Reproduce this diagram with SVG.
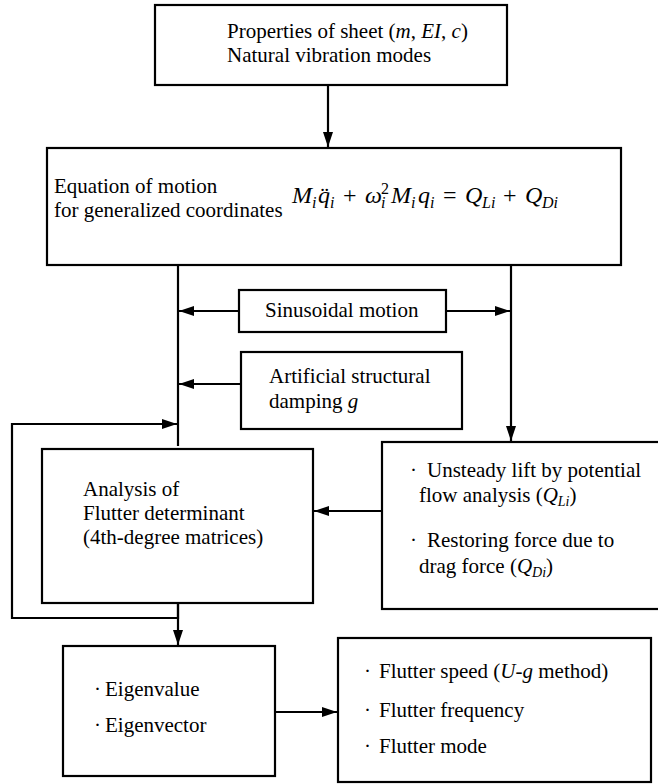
<svg xmlns="http://www.w3.org/2000/svg" width="658" height="784" viewBox="0 0 658 784">
<defs>
<style>
.box{fill:#fff;stroke:#000;stroke-width:2.2}
.ln{fill:none;stroke:#000;stroke-width:2.2}
text{font-family:"Liberation Serif","Times New Roman",serif;font-size:21px;fill:#000}
.it{font-style:italic}
.sub{font-size:14px;font-style:italic}
.fm{font-size:24px;font-style:italic}
.fs{font-size:16px;font-style:italic}
.op{font-style:normal}
</style>
<marker id="ah" markerUnits="userSpaceOnUse" markerWidth="16" markerHeight="12" refX="15" refY="6" orient="auto">
<path d="M0,1 L15,6 L0,11 z" fill="#000"/>
</marker>
</defs>
<rect width="658" height="784" fill="#fff"/>

<g id="connectors">
<line class="ln" x1="328" y1="85" x2="328" y2="147" marker-end="url(#ah)"/>
<line class="ln" x1="178" y1="265" x2="178" y2="446"/>
<line class="ln" x1="511" y1="265" x2="511" y2="441" marker-end="url(#ah)"/>
<line class="ln" x1="239" y1="311" x2="179" y2="311" marker-end="url(#ah)"/>
<line class="ln" x1="446" y1="311" x2="510" y2="311" marker-end="url(#ah)"/>
<line class="ln" x1="241" y1="384" x2="179" y2="384" marker-end="url(#ah)"/>
<path class="ln" d="M178,603 L178,618 L12,618 L12,424 L177,424" marker-end="url(#ah)"/>
<line class="ln" x1="178" y1="603" x2="178" y2="645" marker-end="url(#ah)"/>
<line class="ln" x1="382" y1="511" x2="314" y2="511" marker-end="url(#ah)"/>
<line class="ln" x1="275" y1="712" x2="337" y2="712" marker-end="url(#ah)"/>
</g>

<g id="properties">
<rect class="box" x="155" y="5" width="352" height="80"/>
<text x="227" y="38">Properties of sheet (<tspan class="it">m</tspan>, <tspan class="it">EI</tspan>, <tspan class="it">c</tspan>)</text>
<text x="227" y="62">Natural vibration modes</text>
</g>

<g id="equation">
<rect class="box" x="47" y="148" width="574" height="117"/>
<text x="54" y="193">Equation of motion</text>
<text x="54" y="217">for generalized coordinates</text>
<text class="fm" y="203"><tspan x="292">M</tspan><tspan class="fs" x="312" dy="5">i</tspan><tspan x="318" dy="-5">q̈</tspan><tspan class="fs" x="330" dy="5">i</tspan><tspan class="op" x="343" dy="-5">+</tspan><tspan x="365">ω</tspan><tspan class="fs" x="381" dy="5">i</tspan><tspan class="fs op" x="381" dy="-14">2</tspan><tspan x="391" dy="9">M</tspan><tspan class="fs" x="411" dy="5">i</tspan><tspan x="418" dy="-5">q</tspan><tspan class="fs" x="430" dy="5">i</tspan><tspan class="op" x="443" dy="-5">=</tspan><tspan x="465">Q</tspan><tspan class="fs" x="482" dy="5">Li</tspan><tspan class="op" x="503" dy="-5">+</tspan><tspan x="525">Q</tspan><tspan class="fs" x="542" dy="5">Di</tspan></text>
</g>

<g id="sinusoidal">
<rect class="box" x="239" y="290" width="207" height="42"/>
<text x="265" y="317">Sinusoidal motion</text>
</g>

<g id="damping">
<rect class="box" x="241" y="352" width="221" height="77"/>
<text x="269" y="383">Artificial structural</text>
<text x="269" y="408">damping <tspan class="it">g</tspan></text>
</g>

<g id="analysis">
<rect class="box" x="42" y="449" width="271" height="154"/>
<text x="83" y="496">Analysis of</text>
<text x="83" y="520">Flutter determinant</text>
<text x="83" y="544">(4th-degree matrices)</text>
</g>

<g id="forces">
<rect class="box" x="382" y="442" width="290" height="167"/>
<text x="410" y="477">·</text>
<text x="427" y="477">Unsteady lift by potential</text>
<text x="419" y="502">flow analysis (<tspan class="it">Q</tspan><tspan class="sub" dy="4">Li</tspan><tspan dy="-4">)</tspan></text>
<text x="410" y="547">·</text>
<text x="427" y="547">Restoring force due to</text>
<text x="419" y="573">drag force (<tspan class="it">Q</tspan><tspan class="sub" dy="4">Di</tspan><tspan dy="-4">)</tspan></text>
</g>

<g id="eigen">
<rect class="box" x="63" y="646" width="212" height="130"/>
<text x="94" y="696">·</text>
<text x="105" y="696">Eigenvalue</text>
<text x="94" y="732">·</text>
<text x="105" y="732">Eigenvector</text>
</g>

<g id="flutter">
<rect class="box" x="338" y="638" width="313" height="144"/>
<text x="364" y="678">·</text>
<text x="379" y="678">Flutter speed (<tspan class="it">U</tspan>-<tspan class="it">g</tspan> method)</text>
<text x="364" y="717">·</text>
<text x="379" y="717">Flutter frequency</text>
<text x="364" y="753">·</text>
<text x="379" y="753">Flutter mode</text>
</g>
</svg>
